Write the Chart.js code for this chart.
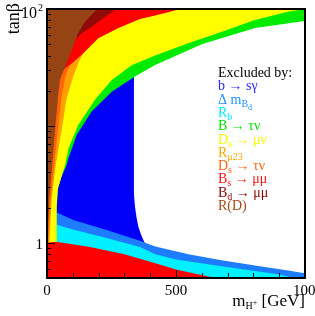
<!DOCTYPE html>
<html>
<head>
<meta charset="utf-8">
<script src="https://cdn.jsdelivr.net/npm/chart.js@4.4.0/dist/chart.umd.min.js"></script>
<style>
  body { margin: 0; background: #fff; }
</style>
</head>
<body>
<canvas id="myChart" width="315" height="316"></canvas>
<script>
// region edges, each point is [mH+ (GeV), tanb]
var bsgamma     = [[0,0.5],[0,100],[337,100],[337,2.6],[341,2.04],[347,1.65],[354,1.38],[363,1.2],[373,1.06],[386,0.92],[400,0.82],[400,0.5]];
var dmBdTop     = [[0,1.9],[38,1.82],[102,1.57],[231,1.29],[360,1.04],[420,0.93],[548,0.80],[677,0.71],[806,0.64],[935,0.58],[1000,0.55]];
var rbTop       = [[0,1.5],[38,1.43],[100,1.3],[231,1.10],[360,0.92],[420,0.80],[500,0.72],[677,0.63],[806,0.575],[900,0.535],[960,0.5]];
var btaunuLow   = [[37,0.5],[37,1.0],[38,2.0],[42,2.9],[55,3.6],[76,4.64],[83,5.3],[115,8.37],[173,13.3],[251,19.6],[341,26.4],[419,33.2],[600,50],[806,68.8],[1000,79]];
var dsmunuLow   = [[37,0.5],[37,1.0],[38,2.0],[42,2.9],[55,3.6],[70,4.6],[83,6.4],[121,10.2],[186,16.7],[251,24.7],[328,33],[419,40],[547,51],[678,64],[806,80.5],[934,94.8],[1000,100]];
var rmu23Edge   = [[0,0.5],[10,1.07],[18,2.33],[34,4.64],[60,10.2],[75,16.7],[100,26],[125,36],[141,41.8],[141,100]];
var dstaunuEdge = [[0,0.5],[6,1.07],[14,2.33],[28,4.64],[44,10.2],[55,16.7],[70,25.8],[85,32],[85,100]];
var bsmumuHigh  = [[0,20],[40,25],[70,31.3],[89,33.2],[120,38.1],[141,41.8],[199,56.2],[275,68.4],[360,82],[419,88],[470,94],[515,100]];
var bsmumuLow   = [[0,1.0],[30,1.02],[60,1.0],[167,0.92],[300,0.80],[420,0.67],[500,0.59],[580,0.54],[655,0.5]];
var bdmumuEdge  = [[0,1],[20,10],[45,25],[80,40],[115,56],[134,62],[173,70.6],[225,85.9],[270,100]];
var rdEdge      = [[0,0.7],[3,1.1],[8,2.3],[20,4.64],[33,10.2],[42,17],[50,24.7],[70,32.2],[89,40.5],[121,62],[147,77.9],[193,100]];

var xTicks = [0, 500, 1000];
var xTickLabels = ['0', '500', '1000'];
var yTicks = [1, 10, 100];

var legendLines = [
  { color: 'rgb(40,40,255)', parts: [['b \u2192 s\u03b3', 0]] },
  { color: 'rgb(30,144,255)', parts: [['\u0394 m', 0], ['B', 1], ['d', 2]] },
  { color: 'rgb(0,240,255)', parts: [['R', 0], ['b', 1]] },
  { color: 'rgb(0,225,0)', parts: [['B \u2192 \u03c4\u03bd', 0]] },
  { color: 'rgb(250,250,0)', parts: [['D', 0], ['s', 1], [' \u2192 \u03bc\u03bd', 0]] },
  { color: 'rgb(255,165,0)', parts: [['R', 0], ['\u03bc23', 1]] },
  { color: 'rgb(255,100,20)', parts: [['D', 0], ['s', 1], [' \u2192 \u03c4\u03bd', 0]] },
  { color: 'rgb(255,20,20)', parts: [['B', 0], ['s', 1], [' \u2192 \u03bc\u03bc', 0]] },
  { color: 'rgb(140,0,0)', parts: [['B', 0], ['d', 1], [' \u2192 \u03bc\u03bc', 0]] },
  { color: 'rgb(160,75,25)', parts: [['R(D)', 0]] }
];

function pts(c) {
  return c.map(function (p) { return { x: p[0], y: p[1] }; });
}
// area above/left of an edge
function above(c) {
  var p = pts(c);
  if (c[0][0] > 0) p.unshift({ x: 0, y: c[0][1] });
  p.push({ x: c[c.length - 1][0], y: 100 });
  p.push({ x: 0, y: 100 });
  return p;
}
// area below an edge
function below(c) {
  var p = pts(c);
  p.push({ x: c[c.length - 1][0], y: 0.5 });
  p.push({ x: 1000, y: 0.5 });
  p.push({ x: 0, y: 0.5 });
  return p;
}

// back to front
var layers = [
  { data: pts(bsgamma), color: 'rgb(0,0,250)' },
  { data: below(dmBdTop), color: 'rgb(30,125,255)' },
  { data: below(rbTop), color: 'rgb(0,240,255)' },
  { data: above(btaunuLow), color: 'rgb(0,235,0)' },
  { data: above(dsmunuLow), color: 'rgb(255,255,0)' },
  { data: above(rmu23Edge), color: 'rgb(255,160,0)' },
  { data: above(dstaunuEdge), color: 'rgb(255,100,10)' },
  { data: above(bsmumuHigh), color: 'rgb(255,0,0)' },
  { data: below(bsmumuLow), color: 'rgb(255,0,0)' },
  { data: above(bdmumuEdge), color: 'rgb(145,10,10)' },
  { data: above(rdEdge), color: 'rgb(150,68,20)' }
];

function richText(ctx, x, y, parts) {
  var sizes = [14, 10, 8];
  var shift = [0, 3, 6];
  parts.forEach(function (p) {
    ctx.font = sizes[p[1]] + 'px "Liberation Serif"';
    ctx.fillText(p[0], x, y + shift[p[1]]);
    x += ctx.measureText(p[0]).width;
  });
}

const frame = {
  id: 'frame',
  afterDatasetsDraw(chart) {
    const ctx = chart.ctx;
    const a = chart.chartArea;
    const x = chart.scales.x, y = chart.scales.y;
    ctx.save();
    ctx.strokeStyle = '#000';
    ctx.lineWidth = 1;
    ctx.beginPath();
    for (var v = 0; v <= 1000; v += 100) {
      var px = Math.round(x.getPixelForValue(v)) + 0.5;
      var len = xTicks.indexOf(v) >= 0 ? 8 : 5;
      ctx.moveTo(px, a.bottom);
      ctx.lineTo(px, a.bottom - len);
    }
    [0.1, 1, 10].forEach(function (dec) {
      for (var k = 1; k <= 9; k++) {
        var val = +(k * dec).toFixed(2);
        if (val < 0.5 || val > 100) continue;
        var py = Math.round(y.getPixelForValue(val)) + 0.5;
        var l = yTicks.indexOf(val) >= 0 ? 8 : 4;
        ctx.moveTo(a.left, py);
        ctx.lineTo(a.left + l, py);
      }
    });
    ctx.stroke();
    ctx.lineWidth = 2;
    ctx.strokeRect(a.left, a.top, a.right - a.left, a.bottom - a.top);

    // tick labels
    ctx.fillStyle = '#000';
    ctx.font = '15px "Liberation Serif"';
    ctx.textAlign = 'center';
    ctx.textBaseline = 'alphabetic';
    xTicks.forEach(function (v, i) {
      ctx.fillText(xTickLabels[i], x.getPixelForValue(v) + (i == 2 ? 3 : 0), 295);
    });
    ctx.textAlign = 'right';
    ctx.fillText('1', 43, y.getPixelForValue(1) + 6);
    ctx.textAlign = 'left';
    ctx.font = '16px "Liberation Serif"';
    ctx.fillText('10', 21, y.getPixelForValue(100) + 9);
    ctx.font = '10px "Liberation Serif"';
    ctx.fillText('2', 38, y.getPixelForValue(100) + 2);

    // axis titles
    var parts = [['m', 17, 0], ['H', 10, 3], ['+', 8, -1], [' [GeV]', 17, 0]];
    var w = 0;
    parts.forEach(function (p) { ctx.font = p[1] + 'px "Liberation Serif"'; w += ctx.measureText(p[0]).width; });
    var tx = a.right - w;
    parts.forEach(function (p) {
      ctx.font = p[1] + 'px "Liberation Serif"';
      ctx.fillText(p[0], tx, 306 + p[2]);
      tx += ctx.measureText(p[0]).width;
    });
    ctx.save();
    ctx.translate(19, 3);
    ctx.rotate(-Math.PI / 2);
    ctx.textAlign = 'right';
    ctx.font = '18px "Liberation Serif"';
    ctx.fillText('tan\u03b2', 0, 0);
    ctx.restore();

    // legend
    ctx.textAlign = 'left';
    ctx.fillStyle = '#000';
    ctx.font = '14px "Liberation Serif"';
    ctx.fillText('Excluded by:', 218, 77);
    legendLines.forEach(function (l, i) {
      ctx.fillStyle = l.color;
      richText(ctx, 218, 90.3 + i * 13.3, l.parts);
    });
    ctx.restore();
  }
};

const ctx = document.getElementById('myChart').getContext('2d');
const myChart = new Chart(ctx, {
  type: 'scatter',
  data: {
    datasets: layers.map(function (l, i) {
      return {
        data: l.data,
        showLine: true,
        fill: 'shape',
        backgroundColor: l.color,
        borderWidth: 0,
        pointRadius: 0,
        tension: 0,
        order: layers.length - i
      };
    })
  },
  options: {
    responsive: false,
    animation: false,
    layout: { padding: { left: 47, right: 10, top: 9, bottom: 38 } },
    plugins: { legend: { display: false }, tooltip: { enabled: false } },
    scales: {
      x: { type: 'linear', min: 0, max: 1000, display: false },
      y: { type: 'logarithmic', min: 0.5, max: 100, display: false }
    }
  },
  plugins: [frame]
});
</script>
</body>
</html>
